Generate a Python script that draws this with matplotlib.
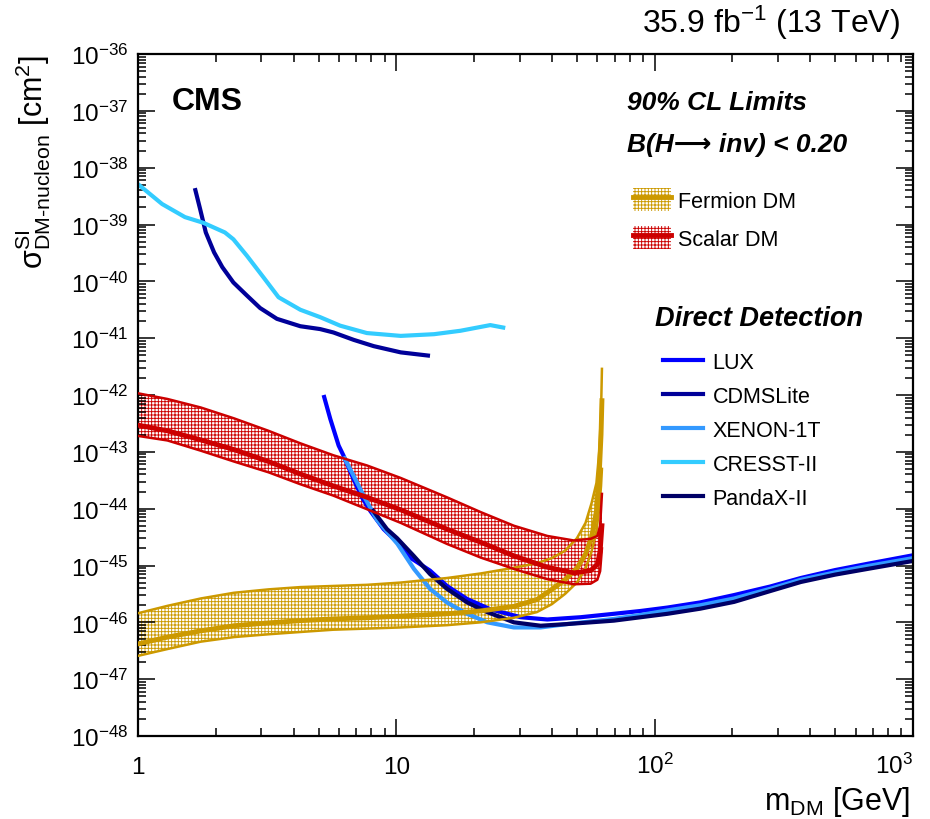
import numpy as np
import matplotlib
matplotlib.use("Agg")
import matplotlib.pyplot as plt
from matplotlib.patches import Patch
from matplotlib.lines import Line2D
from matplotlib.ticker import FixedLocator, FixedFormatter, LogLocator, NullFormatter

plt.rcParams['font.family'] = ['Liberation Sans', 'DejaVu Sans']
plt.rcParams['mathtext.fontset'] = 'custom'
plt.rcParams['mathtext.rm'] = 'Liberation Sans'
plt.rcParams['mathtext.it'] = 'Liberation Sans:italic'
plt.rcParams['mathtext.bf'] = 'Liberation Sans:bold'
plt.rcParams['hatch.linewidth'] = 0.65

# --- data (x in GeV, y as log10 of cross section in cm^2) ---
cresst_mass = [1.0, 1.24, 1.52, 1.79, 2.17, 2.34, 2.64, 3.06, 3.50, 4.25, 5.07, 6.06, 7.69, 10.4, 14.0, 17.7, 23.1, 26.4]
cresst_logxs = [-38.29, -38.64, -38.87, -38.97, -39.14, -39.26, -39.55, -39.93, -40.28, -40.50,
                -40.63, -40.78, -40.91, -40.96, -40.93, -40.87, -40.77, -40.82]

cdms_mass = [1.66, 1.74, 1.83, 1.97, 2.12, 2.34, 2.64, 2.97, 3.45, 4.25, 5.07, 5.71, 6.84, 8.17, 10.4, 13.5]
cdms_logxs = [-38.36, -38.73, -39.14, -39.49, -39.75, -40.02, -40.25, -40.47, -40.66, -40.79,
              -40.84, -40.90, -41.03, -41.14, -41.25, -41.31]

lux_mass = [5.23, 5.55, 5.98, 6.25, 6.83, 7.36, 7.93, 8.93, 10.4, 11.3, 13.5, 15.7, 18.8, 23.1,
            30.3, 38.4, 51.7, 69.5, 88.3, 112, 150, 203, 280, 368, 500, 667, 1000]
lux_logxs = [-42.0, -42.42, -42.89, -43.07, -43.48, -43.80, -44.04, -44.36, -44.65, -44.86, -45.09,
             -45.36, -45.59, -45.77, -45.91, -45.95, -45.91, -45.85, -45.80, -45.74, -45.65, -45.52,
             -45.37, -45.22, -45.08, -44.97, -44.82]

xenon_mass = [6.25, 6.83, 7.47, 8.42, 10.1, 11.7, 13.5, 15.7, 18.8, 22.5, 28.5, 36.2, 45.9, 69.5,
              88.3, 112, 150, 203, 280, 368, 500, 667, 1000]
xenon_logxs = [-43.08, -43.42, -43.77, -44.20, -44.62, -45.06, -45.41, -45.65, -45.85, -46.0, -46.09,
               -46.09, -46.03, -45.94, -45.87, -45.79, -45.70, -45.58, -45.41, -45.25, -45.12, -45.01,
               -44.87]

pandax_mass = [8.05, 9.2, 10.07, 11.67, 13.5, 15.7, 18.8, 22.5, 28.5, 36.2, 45.9, 69.5, 88.3, 112,
               150, 203, 280, 368, 500, 667, 1000]
pandax_logxs = [-44.01, -44.36, -44.52, -44.83, -45.15, -45.41, -45.65, -45.82, -46.0, -46.06, -46.03,
                -45.97, -45.91, -45.85, -45.76, -45.64, -45.45, -45.29, -45.16, -45.06, -44.92]

fermion_mass = [1, 1.3, 1.75, 2.35, 3.2, 4.25, 5.7, 7.7, 10.4, 15.7, 21.2, 28.5, 35, 40, 45, 50,
                54, 57, 59.5, 61, 62, 62.5]
fermion_hi = [-45.84, -45.71, -45.58, -45.48, -45.42, -45.38, -45.36, -45.34, -45.30, -45.22, -45.14,
              -45.04, -44.96, -44.87, -44.74, -44.52, -44.25, -43.90, -43.55, -43.0, -42.3, -41.54]
fermion_mid = [-46.38, -46.26, -46.15, -46.06, -46.01, -45.97, -45.94, -45.92, -45.89, -45.85, -45.80,
               -45.72, -45.60, -45.42, -45.25, -45.05, -44.80, -44.50, -44.05, -43.4, -42.7, -42.10]
fermion_lo = [-46.59, -46.47, -46.34, -46.26, -46.21, -46.17, -46.13, -46.11, -46.09, -46.05, -46.00,
              -45.92, -45.82, -45.68, -45.50, -45.30, -45.05, -44.75, -44.40, -44.0, -43.6, -43.3]

scalar_mass = [1, 1.3, 1.75, 2.35, 3.2, 4.25, 5.7, 7.7, 10.4, 15.7, 21.2, 28.5, 38.4, 48.7, 56.5,
               60, 61.5, 62.5]
scalar_hi = [-41.97, -42.07, -42.22, -42.41, -42.63, -42.85, -43.06, -43.24, -43.46, -43.80, -44.06,
             -44.30, -44.48, -44.56, -44.53, -44.48, -44.3, -43.74]
scalar_mid = [-42.53, -42.63, -42.79, -42.96, -43.17, -43.39, -43.60, -43.80, -44.02, -44.36, -44.59,
              -44.83, -45.03, -45.13, -45.09, -44.98, -44.75, -44.30]
scalar_lo = [-42.72, -42.80, -42.98, -43.17, -43.36, -43.57, -43.77, -44.01, -44.25, -44.62, -44.86,
             -45.06, -45.24, -45.33, -45.32, -45.25, -45.1, -44.7]

GOLD = '#cc9900'
RED = '#cc0000'
detectors = [
    ('LUX', lux_mass, lux_logxs, '#0000ff'),
    ('CDMSLite', cdms_mass, cdms_logxs, '#000099'),
    ('XENON-1T', xenon_mass, xenon_logxs, '#3399ff'),
    ('CRESST-II', cresst_mass, cresst_logxs, '#33ccff'),
    ('PandaX-II', pandax_mass, pandax_logxs, '#000066'),
]
bands = [(fermion_mass, fermion_lo, fermion_mid, fermion_hi, GOLD),
         (scalar_mass, scalar_lo, scalar_mid, scalar_hi, RED)]


def xs(vals):
    return 10.0 ** np.array(vals)


W, H = 930, 820
fig = plt.figure(figsize=(W / 100, H / 100), dpi=100)
ax = fig.add_axes([138 / W, 1 - 737 / H, (913 - 138) / W, (737 - 55) / H])
ax.set_xscale('log')
ax.set_yscale('log')
ax.set_xlim(1, 1000)
ax.set_ylim(1e-48, 1e-36)

# hatched bands
for mass, lo, mid, hi, col in bands:
    ax.fill_between(mass, xs(lo), xs(hi), facecolor='white', edgecolor=col, hatch='+++++',
                    linewidth=0, zorder=1)

# direct detection limits
det_handles = []
for name, mass, vals, col in detectors:
    ax.plot(mass, xs(vals), color=col, lw=3, zorder=2, solid_capstyle='butt')
    det_handles.append(Line2D([], [], color=col, lw=3))

# band edges and central lines
for mass, lo, mid, hi, col in bands:
    ax.plot(mass, xs(hi), color=col, lw=1.8, zorder=3)
    ax.plot(mass, xs(lo), color=col, lw=1.8, zorder=3)
    ax.plot(mass, xs(mid), color=col, lw=3.5, zorder=3)

# axes styling (ROOT-like)
ax.xaxis.set_major_locator(FixedLocator([1, 10, 100, 1000]))
ax.xaxis.set_major_formatter(FixedFormatter(['1', '10', r'$10^{2}$', r'$10^{3}$']))
ax.xaxis.set_minor_locator(LogLocator(base=10, subs=np.arange(2, 10), numticks=100))
ax.xaxis.set_minor_formatter(NullFormatter())
ax.yaxis.set_major_locator(FixedLocator(10.0 ** np.arange(-48, -35)))
ax.yaxis.set_minor_locator(LogLocator(base=10, subs=np.arange(2, 10), numticks=300))
ax.yaxis.set_minor_formatter(NullFormatter())
ax.tick_params(which='both', direction='in', top=True, right=True, width=1.1, labelsize=17.5)
ax.tick_params(which='major', length=12)
ax.tick_params(which='minor', length=6)
ax.tick_params(axis='y', pad=7)
ax.tick_params(axis='x', pad=26.5)
xlabels = ax.get_xticklabels()
plt.setp(xlabels, va='baseline')
xlabels[-1].set_ha('right')
for s in ax.spines.values():
    s.set_linewidth(1.6)

fig.text(33 / W, 1 - 55 / H, r'$\mathrm{σ^{SI}_{DM\text{-}nucleon}}$ [cm$^{2}$]', rotation=90,
         ha='center', va='top', fontsize=22)
fig.text(910 / W, 1 - 810 / H, r'm$_{\mathrm{DM}}$ [GeV]', ha='right', va='baseline', fontsize=22)
fig.text(900 / W, 1 - 23 / H, r'35.9 fb$^{-1}$ (13 TeV)', ha='right', va='center', fontsize=23)
fig.text(172 / W, 1 - 102 / H, 'CMS', ha='left', va='center', fontsize=23, fontweight='bold')
fig.text(627 / W, 1 - 103 / H, '90% CL Limits', ha='left', va='center', fontsize=19,
         fontweight='bold', fontstyle='italic')
fig.text(627 / W, 1 - 145 / H, 'B(H⟶ inv) < 0.20', ha='left', va='center', fontsize=19,
         fontweight='bold', fontstyle='italic')
fig.text(655 / W, 1 - 319 / H, 'Direct Detection', ha='left', va='center', fontsize=19.5,
         fontweight='bold', fontstyle='italic')

fermion_handle = (Patch(facecolor='white', edgecolor=GOLD, hatch='+++++', lw=0),
                  Line2D([], [], color=GOLD, lw=3.5))
scalar_handle = (Patch(facecolor='white', edgecolor=RED, hatch='+++++', lw=0),
                 Line2D([], [], color=RED, lw=3.5))
leg1 = ax.legend([fermion_handle, scalar_handle], ['Fermion DM', 'Scalar DM'], loc='upper left',
                 bbox_to_anchor=(633 / W, 1 - 189 / H), bbox_transform=fig.transFigure,
                 frameon=False, fontsize=15.5, handlelength=1.75, handleheight=1.3,
                 handletextpad=0.35, labelspacing=0.65, borderpad=0, borderaxespad=0)
ax.add_artist(leg1)
ax.legend(det_handles, [d[0] for d in detectors], loc='upper left',
          bbox_to_anchor=(663 / W, 1 - 353 / H), bbox_transform=fig.transFigure,
          frameon=False, fontsize=15.5, handlelength=1.85, handletextpad=0.45,
          labelspacing=0.6, borderpad=0, borderaxespad=0)

fig.savefig('out.png', dpi=100)
